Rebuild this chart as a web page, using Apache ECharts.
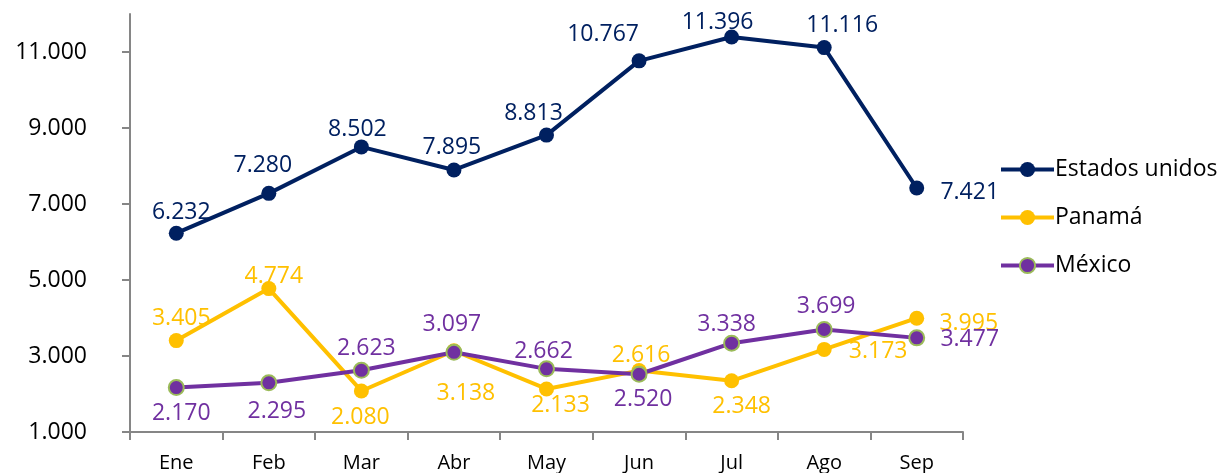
<!DOCTYPE html>
<html>
<head>
<meta charset="utf-8">
<script src="https://cdn.jsdelivr.net/npm/echarts@6/dist/echarts.min.js"></script>
<style>
html, body { margin: 0; padding: 0; background: #fff; }
#chart { width: 1220px; height: 473px; }
</style>
</head>
<body>
<div id="chart"></div>
<script>
const months = ['Ene', 'Feb', 'Mar', 'Abr', 'May', 'Jun', 'Jul', 'Ago', 'Sep'];
const estadosUnidos = [6232, 7280, 8502, 7895, 8813, 10767, 11396, 11116, 7421];
const panama = [3405, 4774, 2080, 3138, 2133, 2616, 2348, 3173, 3995];
const mexico = [2170, 2295, 2623, 3097, 2662, 2520, 3338, 3699, 3477];

// label offsets from each point (px), hand placed like the original
const offEstados = [[5, -23], [-6, -30], [-4, -19], [-2, -25], [-13, -24], [-36, -28], [-14, -16], [18, -24], [53, 2]];
const offPanama = [[5, -24], [5, -14], [-1, 24], [12, 41], [14, 15], [2, -17], [10, 24], [54, 0], [52, 3]];
const offMexico = [[5, 24], [8, 27], [5, -24], [-2, -30], [-3, -19], [4, 23], [-5, -21], [2, -25], [53, 0]];

const font = '"Open Sans", "Liberation Sans", sans-serif';

function fmt(v) {
    return String(v).replace(/\B(?=(\d{3})+(?!\d))/g, '.');
}

function buildSeries(name, values, offsets, color, border) {
    return {
        name: name,
        type: 'line',
        symbol: 'circle',
        symbolSize: 15,
        lineStyle: { color: color, width: 4 },
        itemStyle: {
            color: color,
            borderColor: border || color,
            borderWidth: border ? 2 : 0
        },
        data: values.map((v, i) => ({
            value: v,
            label: {
                show: true,
                position: 'inside',
                offset: [offsets[i][0], offsets[i][1] + 2],
                color: color,
                fontFamily: font,
                fontSize: 23,
                formatter: p => fmt(p.value)
            }
        })),
        animation: false
    };
}

const chart = echarts.init(document.getElementById('chart'));
const option = {
    backgroundColor: '#fff',
    textStyle: { fontFamily: font },
    grid: {
        left: 130,
        right: 257,
        top: 14,
        bottom: 41
    },
    legend: {
        orient: 'vertical',
        left: 994,
        top: 153,
        itemWidth: 53,
        itemHeight: 19,
        itemGap: 25,
        lineStyle: { width: 4 },
        textStyle: { fontFamily: font, fontSize: 23, color: '#000', padding: [0, 0, 0, -4] },
        data: ['Estados unidos', 'Panamá', 'México']
    },
    xAxis: {
        type: 'category',
        data: months,
        axisLine: { lineStyle: { color: '#868686', width: 2 } },
        axisTick: { show: true, length: 8, lineStyle: { color: '#868686', width: 2 } },
        axisLabel: { color: '#000', fontFamily: font, fontSize: 20, margin: 21 }
    },
    yAxis: {
        type: 'value',
        min: 1000,
        max: 12000,
        interval: 2000,
        splitLine: { show: false },
        axisLine: { show: true, lineStyle: { color: '#868686', width: 2 } },
        axisTick: { show: true, length: 8, lineStyle: { color: '#868686', width: 2 } },
        axisLabel: {
            color: '#000',
            fontFamily: font,
            fontSize: 23,
            margin: 43,
            showMaxLabel: false,
            formatter: v => fmt(v)
        }
    },
    series: [
        buildSeries('Estados unidos', estadosUnidos, offEstados, '#002060'),
        buildSeries('Panamá', panama, offPanama, '#FFC000'),
        buildSeries('México', mexico, offMexico, '#7030A0', '#9BBB59')
    ]
};
chart.setOption(option);
</script>
</body>
</html>
